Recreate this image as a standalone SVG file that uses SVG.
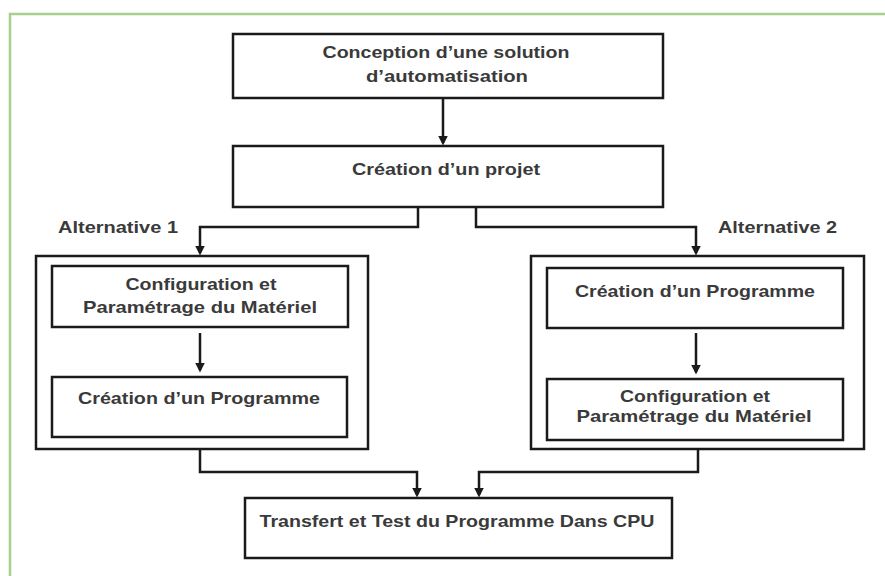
<svg xmlns="http://www.w3.org/2000/svg" width="885" height="576" viewBox="0 0 885 576">
<style>
.box{fill:#fff;stroke:#1a1a1a;stroke-width:2.5}
.frame{fill:none;stroke:#a9cf8c;stroke-width:2.5}
.t{font-family:"Liberation Sans",Arial,sans-serif;font-weight:bold;font-size:17px;fill:#3a3a3a;text-anchor:middle}
.tl{font-family:"Liberation Sans",Arial,sans-serif;font-weight:bold;font-size:17px;fill:#3a3a3a}
.c{fill:none;stroke:#1a1a1a;stroke-width:2.5;marker-end:url(#ah)}
</style>
<defs>
<marker id="ah" markerWidth="4" markerHeight="4" refX="3" refY="2" orient="auto" markerUnits="strokeWidth">
<path d="M0,0 L4,2 L0,4 Z" fill="#1a1a1a"/>
</marker>
</defs>
<rect width="885" height="576" fill="#fff"/>
<path class="frame" d="M10,576 V14 H885"/>

<g id="n1">
<rect class="box" x="233" y="34" width="430" height="64"/>
<text class="t" x="446" y="58" textLength="247" lengthAdjust="spacingAndGlyphs">Conception d’une solution</text>
<text class="t" x="447" y="82" textLength="162" lengthAdjust="spacingAndGlyphs">d’automatisation</text>
</g>
<g id="n2">
<rect class="box" x="233" y="146" width="430" height="61"/>
<text class="t" x="446" y="175" textLength="188" lengthAdjust="spacingAndGlyphs">Création d’un projet</text>
</g>
<g id="lbl1"><text class="tl" x="58" y="233" textLength="120" lengthAdjust="spacingAndGlyphs">Alternative 1</text></g>
<g id="lbl2"><text class="tl" x="718" y="233" textLength="119" lengthAdjust="spacingAndGlyphs">Alternative 2</text></g>

<g id="alt1">
<rect class="box" x="36" y="256" width="332" height="193"/>
</g>
<g id="alt1a">
<rect class="box" x="52" y="266" width="296" height="61"/>
<text class="t" x="201" y="290" textLength="151" lengthAdjust="spacingAndGlyphs">Configuration et</text>
<text class="t" x="200" y="313" textLength="234" lengthAdjust="spacingAndGlyphs">Paramétrage du Matériel</text>
</g>
<g id="alt1b">
<rect class="box" x="52" y="377" width="295" height="60"/>
<text class="t" x="199" y="404" textLength="242" lengthAdjust="spacingAndGlyphs">Création d’un Programme</text>
</g>

<g id="alt2">
<rect class="box" x="531" y="256" width="333" height="193"/>
</g>
<g id="alt2a">
<rect class="box" x="547" y="268" width="296" height="60"/>
<text class="t" x="695" y="297" textLength="240" lengthAdjust="spacingAndGlyphs">Création d’un Programme</text>
</g>
<g id="alt2b">
<rect class="box" x="547" y="379" width="296" height="61"/>
<text class="t" x="695" y="402" textLength="150" lengthAdjust="spacingAndGlyphs">Configuration et</text>
<text class="t" x="694" y="422" textLength="235" lengthAdjust="spacingAndGlyphs">Paramétrage du Matériel</text>
</g>

<g id="n3">
<rect class="box" x="245" y="498" width="427" height="60"/>
<text class="t" x="457" y="527" textLength="395" lengthAdjust="spacingAndGlyphs">Transfert et Test du Programme Dans CPU</text>
</g>

<g id="connectors">
<path class="c" d="M443,98 V143"/>
<path class="c" d="M418,207 V227 H200 V253"/>
<path class="c" d="M476,207 V227 H696 V253"/>
<path class="c" d="M200,333 V370"/>
<path class="c" d="M696,333 V372"/>
<path class="c" d="M200,449 V472 H417 V495"/>
<path class="c" d="M698,449 V472 H479 V495"/>
</g>
</svg>
